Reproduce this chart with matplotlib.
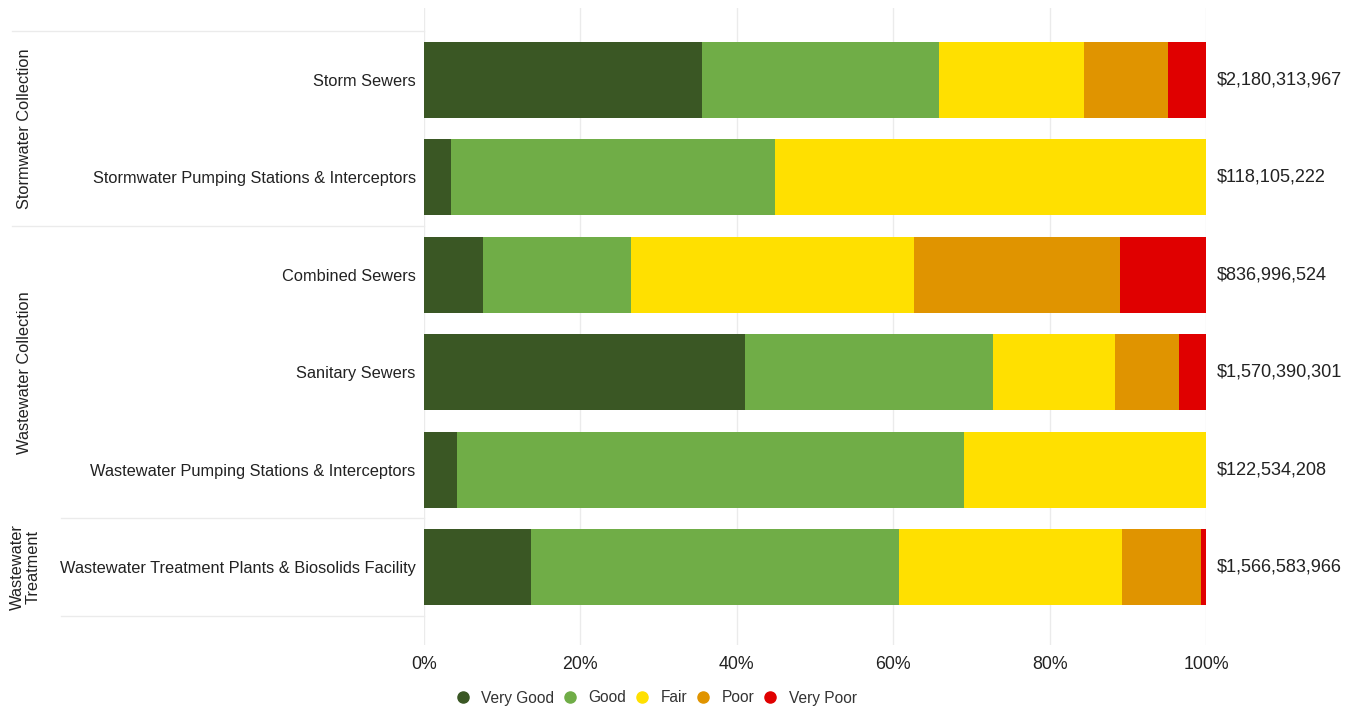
import matplotlib
matplotlib.use('Agg')
import matplotlib.pyplot as plt
from matplotlib.lines import Line2D
from matplotlib.transforms import blended_transform_factory

plt.rcParams['font.family'] = ['Liberation Sans', 'DejaVu Sans']

assets = ['Storm Sewers',
          'Stormwater Pumping Stations & Interceptors',
          'Combined Sewers',
          'Sanitary Sewers',
          'Wastewater Pumping Stations & Interceptors',
          'Wastewater Treatment Plants & Biosolids Facility']
replacement_value = ['$2,180,313,967', '$118,105,222', '$836,996,524',
                     '$1,570,390,301', '$122,534,208', '$1,566,583,966']

# percent of replacement value in each condition rating
very_good = [35.6, 3.5, 7.6, 41.0, 4.2, 13.7]
good = [30.2, 41.4, 18.9, 31.7, 64.8, 47.0]
fair = [18.6, 55.1, 36.2, 15.6, 31.0, 28.5]
poor = [10.7, 0.0, 26.3, 8.2, 0.0, 10.2]
very_poor = [4.9, 0.0, 11.0, 3.5, 0.0, 0.6]

ratings = ['Very Good', 'Good', 'Fair', 'Poor', 'Very Poor']
colors = ['#3a5724', '#70ad47', '#ffe000', '#e09400', '#e00000']

groups = ['Stormwater Collection', 'Wastewater Collection', 'Wastewater\nTreatment']
group_centre = [0.5, 3.0, 5.0]
group_edges = [(-0.5, 0.009), (1.5, 0.009), (4.5, 0.045), (5.5, 0.045)]

fig = plt.figure(figsize=(13.46, 7.06), dpi=100)
ax = fig.add_axes([424 / 1346, 1 - 645 / 706, 782 / 1346, 637 / 706])

rows = list(range(len(assets)))
left = [0.0] * len(assets)
for name, vals, col in zip(ratings, [very_good, good, fair, poor, very_poor], colors):
    ax.barh(rows, vals, left=left, height=0.78, color=col, label=name, zorder=2)
    left = [l + v for l, v in zip(left, vals)]

for r, txt in zip(rows, replacement_value):
    ax.text(101.4, r, txt, va='center', ha='left', fontsize=13.1, color='#222222', clip_on=False)

ax.set_xlim(0, 100)
ax.set_ylim(5.8, -0.74)
ax.set_xticks([0, 20, 40, 60, 80, 100])
ax.set_xticklabels(['0%', '20%', '40%', '60%', '80%', '100%'], fontsize=12.8, color='#222222')
ax.set_yticks(rows)
ax.set_yticklabels(assets, fontsize=11.8, color='#222222')
ax.tick_params(length=0)
ax.tick_params(axis='x', pad=8)
ax.tick_params(axis='y', pad=6)
ax.grid(axis='x', color='#ebebeb', lw=1, zorder=0)
for s in ax.spines.values():
    s.set_visible(False)

# group separators and labels to the left of the category names
trans = blended_transform_factory(fig.transFigure, ax.transData)
for y, x0 in group_edges:
    fig.add_artist(Line2D([x0, 424 / 1346], [y, y], transform=trans, color='#ebebeb', lw=1))
for g, yc in zip(groups, group_centre):
    fig.text(25 / 1346, yc, g, transform=trans, rotation=90, ha='center', va='center',
             fontsize=11.8, color='#222222', linespacing=1.05)

handles = [Line2D([], [], marker='o', ls='', color=c, markersize=8) for c in colors]
fig.legend(handles, ratings, loc='center', bbox_to_anchor=(655 / 1346, 1 - 698 / 706),
           ncol=5, frameon=False, fontsize=11.2, handletextpad=0.6, columnspacing=0.4,
           handlelength=1.2, labelcolor='#333333')

fig.savefig('out.png', dpi=100, facecolor='white')
